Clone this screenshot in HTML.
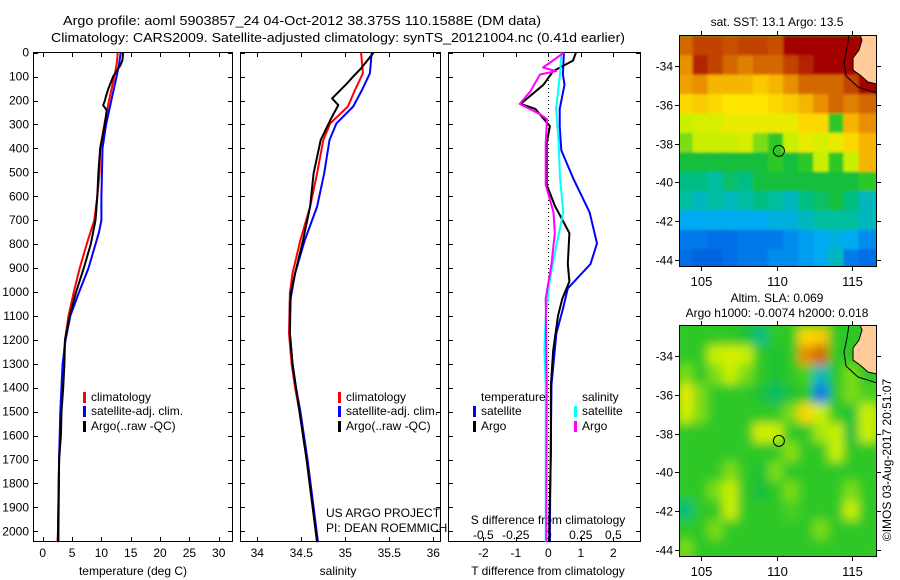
<!DOCTYPE html>
<html><head><meta charset="utf-8"><style>
body{margin:0;background:#fff;}
svg{display:block;font-family:"Liberation Sans",sans-serif;}
text{font-size:12px;fill:#000;}
</style></head><body>
<svg id="c" width="900" height="580" viewBox="0 0 900 580">
<defs>
<clipPath id="clipSST"><rect x="679" y="35" width="198" height="232"/></clipPath>
<clipPath id="clipSLA"><rect x="679" y="325" width="198" height="232"/></clipPath>
<filter id="blur" x="-5%" y="-5%" width="110%" height="110%"><feGaussianBlur stdDeviation="5"/></filter>
<filter id="blur2" x="-5%" y="-5%" width="110%" height="110%"><feGaussianBlur stdDeviation="1.2"/></filter>
</defs>
<text x="302" y="25" text-anchor="middle" style="font-size:13px" textLength="478" lengthAdjust="spacingAndGlyphs">Argo profile: aoml 5903857_24 04-Oct-2012 38.375S 110.1588E (DM data)</text>
<text x="338" y="42" text-anchor="middle" style="font-size:13px" textLength="574" lengthAdjust="spacingAndGlyphs">Climatology: CARS2009. Satellite-adjusted climatology: synTS_20121004.nc (0.41d earlier)</text>
<g id="plots"></g>
</svg>
<script>
// ---------- Profile data (depth in m) ----------
const tClimDepth=[0,50,100,200,300,400,500,600,700,800,900,1000,1100,1200,1300,1500,1700,2000,2045];
const tClimVal=[12.8,12.6,12.2,11.3,10.5,9.8,9.7,9.3,8.8,7.5,6.3,5.3,4.4,3.8,3.5,3.1,2.8,2.6,2.5];
const tSatDepth=[0,50,100,200,300,400,500,600,700,750,800,900,1000,1100,1200,1300,1500,1700,2000,2045];
const tSatVal=[13.3,13.0,12.6,11.7,10.8,10.2,10.1,10.0,10.0,9.6,9.0,7.8,6.2,4.7,3.9,3.4,3.0,2.8,2.7,2.7];
const tArgoDepth=[0,30,50,100,150,180,200,220,240,300,400,500,600,700,800,900,1000,1100,1200,1300,1400,1500,1600,1700,2000,2045];
const tArgoVal=[13.7,13.6,13.3,12.0,11.2,10.8,10.6,10.3,10.9,10.6,9.8,9.5,9.3,9.0,8.2,7.0,5.7,4.6,3.8,3.7,3.5,3.2,3.1,2.8,2.6,2.6];

const sClimDepth=[0,86,156,225,295,365,504,643,783,922,1006,1173,1300,1400,1500,1700,1900,2045];
const sClimVal=[35.18,35.2,35.11,35.03,34.83,34.75,34.68,34.6,34.49,34.4,34.37,34.36,34.39,34.43,34.48,34.56,34.63,34.68];
const sSatDepth=[0,86,156,225,295,365,504,643,783,922,1045,1173,1300,1400,1500,1700,1900,2045];
const sSatVal=[35.3,35.28,35.19,35.09,34.9,34.82,34.76,34.68,34.54,34.43,34.37,34.37,34.4,34.44,34.49,34.57,34.64,34.69];
const sArgoDepth=[0,65,100,128,191,219,274,365,504,643,783,922,1006,1173,1300,1500,1700,2045];
const sArgoVal=[35.32,35.18,35.09,35.02,34.85,34.92,34.84,34.72,34.64,34.6,34.52,34.43,34.38,34.37,34.4,34.48,34.56,34.68];

const dTSatDepth=[0,91,134,235,307,408,523,667,797,883,985,1071,1172,1388,1964,2045];
const dTSatVal=[0.48,0.45,0.5,0.35,0.35,0.4,0.76,1.27,1.5,1.3,0.6,0.45,0.25,0.1,0.05,0.05];
const dTArgoDepth=[0,33,77,134,214,235,307,379,552,639,754,883,956,1028,1100,1244,1388,1676,1964,2045];
const dTArgoVal=[0.85,0.76,0.15,-0.15,-0.85,-0.4,0.05,-0.05,-0.05,0.2,0.65,0.6,0.65,0.43,0.3,0.15,0.08,0.08,0.03,0.03];
const dSSatDepth=[0,91,235,379,523,667,811,956,1100,1244,1388,1964,2045];
const dSSatVal=[0.1,0.09,0.06,0.08,0.09,0.115,0.06,0.01,-0.02,-0.03,-0.02,-0.02,-0.02];
const dSArgoDepth=[0,62,77,91,163,214,257,278,379,552,667,754,883,1028,1244,1388,1964,2045];
const dSArgoVal=[0.12,-0.04,0.06,-0.064,-0.14,-0.22,-0.064,-0.01,-0.02,-0.02,0.04,0.05,0.025,-0.02,-0.015,-0.012,-0.015,-0.015];

const depthTicks=[0,100,200,300,400,500,600,700,800,900,1000,1100,1200,1300,1400,1500,1600,1700,1800,1900,2000];
const tempTicks=[0,5,10,15,20,25,30];
const salTicks=[34,34.5,35,35.5,36];
const salLabelTicks=[34,35,36];
const dTTicks=[-2,-1,0,1,2];
const dSTicks=[-0.5,-0.25,0,0.25,0.5];

// ---------- Map data: rows lat -33..-44, cols lon 104..116 (colour index 0..1, null = land) ----------
const mapLats=[-33,-34,-35,-36,-37,-38,-39,-40,-41,-42,-43,-44];
const mapLons=[104,105,106,107,108,109,110,111,112,113,114,115,116];
const sstGrid=[
[.85,.9,.9,.88,.9,.9,.88,1,1,1,1,1,null],
[.8,.95,.9,.85,.82,.85,.85,.9,.95,1,1,1,null],
[.78,.8,.75,.75,.75,.72,.75,.8,.85,.85,.85,.9,1],
[.7,.72,.7,.68,.68,.68,.7,.72,.75,.8,.85,.82,.85],
[.6,.62,.62,.65,.65,.65,.65,.65,.7,.7,.5,.75,.8],
[.55,.6,.6,.6,.62,.55,.5,.6,.65,.62,.65,.7,.75],
[.45,.45,.45,.45,.45,.45,.5,.45,.5,.6,.5,.6,.75],
[.4,.4,.38,.42,.4,.45,.45,.45,.45,.45,.45,.45,.5],
[.38,.35,.38,.35,.38,.4,.38,.35,.4,.42,.45,.4,.35],
[.3,.3,.3,.3,.3,.3,.32,.32,.35,.38,.38,.38,.35],
[.22,.22,.2,.2,.22,.22,.22,.25,.28,.3,.32,.3,.25],
[.2,.18,.18,.2,.22,.22,.25,.25,.28,.3,.35,.22,.2]];
const slaGrid=[
[.5,.5,.5,.5,.47,.4,.5,.5,.7,.72,.5,.5,null],
[.5,.5,.6,.62,.6,.5,.47,.5,.8,.85,.5,.5,null],
[.55,.5,.55,.6,.55,.5,.47,.5,.52,.35,.5,.55,.5],
[.65,.55,.5,.5,.5,.47,.42,.47,.5,.22,.5,.55,.52],
[.62,.55,.5,.5,.5,.5,.5,.55,.7,.6,.5,.47,.6],
[.5,.5,.5,.5,.5,.62,.6,.5,.5,.58,.6,.45,.6],
[.5,.5,.5,.5,.5,.5,.5,.56,.5,.5,.6,.5,.5],
[.5,.5,.5,.55,.5,.47,.55,.5,.5,.5,.5,.5,.5],
[.5,.5,.55,.6,.5,.45,.5,.55,.5,.5,.5,.55,.5],
[.4,.5,.5,.6,.5,.5,.5,.52,.5,.5,.5,.6,.5],
[.5,.5,.55,.5,.5,.5,.5,.5,.5,.55,.5,.5,.5],
[.55,.5,.5,.5,.5,.5,.5,.5,.5,.5,.5,.5,.5]];
const mapLatTicks=[-34,-36,-38,-40,-42,-44];
const mapLonTicks=[105,110,115];
const argoLon=[110.1588];
const argoLat=[-38.375];

// ---------- helpers ----------
const NS='http://www.w3.org/2000/svg';
const root=document.getElementById('plots');
function mk(tag,attrs,parent){const e=document.createElementNS(NS,tag);for(const k in attrs)e.setAttribute(k,attrs[k]);(parent||root).appendChild(e);return e;}
const yD=d=>52.7+d*0.2393;
const PT={x0:33,x1:232},PS={x0:240,x1:440},PD={x0:448,x1:640};
const PY0=52,PY1=541;
const xT=v=>42.7+v*5.867;
const xS=v=>257.3+(v-34)*88;
const xDT=v=>548.3+v*32.5;
const xDS=v=>548.3+v*130;

function panel(P,name){
  const g=mk('g',{});
  
  
  const r=mk('rect',{x:P.x0+0.5,y:PY0+0.5,width:P.x1-P.x0,height:PY1-PY0,fill:'#fff',stroke:'#000','stroke-width':1},g);
  
  
  depthTicks.forEach(d=>{
    const y=Math.round(yD(d))+0.5;
    mk('line',{x1:P.x0,x2:P.x0+5,y1:y,y2:y,stroke:'#000'},g);
    mk('line',{x1:P.x1-4,x2:P.x1,y1:y,y2:y,stroke:'#000'},g);
  });
  return g;
}
function xticks(g,ticks,f){
  ticks.forEach(v=>{const x=Math.round(f(v))+0.5;
    mk('line',{x1:x,x2:x,y1:PY0,y2:PY0+5,stroke:'#000'},g);
    mk('line',{x1:x,x2:x,y1:PY1-4,y2:PY1,stroke:'#000'},g);});
}
function line(g,depths,vals,f,color,name,w){
  const pts=depths.map((d,i)=>f(vals[i]).toFixed(1)+','+yD(d).toFixed(1)).join(' ');
  const p=mk('polyline',{points:pts,fill:'none',stroke:color,'stroke-width':w||2,'stroke-linejoin':'round'},g);
  
  
}
function label(g,x,y,t,anchor,name,size){
  const e=mk('text',{x:x,y:y,'text-anchor':anchor||'start'},g);
  if(size)e.style.fontSize=size+'px';
  e.textContent=t;
  
  
  return e;
}
function legendSwatch(g,x,y,color,name){
  const r=mk('rect',{x:x,y:y-9,width:3,height:11,fill:color},g);
  
  
}

// ---------- Panel 1: temperature ----------
const g1=panel(PT,'temperature-panel');
xticks(g1,tempTicks,xT);
depthTicks.forEach(d=>label(g1,29,yD(d)+4,String(d),'end','depth-tick-label'));
tempTicks.forEach(v=>label(g1,xT(v),557,String(v),'middle','temperature-tick-label'));
label(g1,133,575,'temperature (deg C)','middle','temperature-axis-title');
line(g1,tClimDepth,tClimVal,xT,'#f00','temperature-climatology-line');
line(g1,tSatDepth,tSatVal,xT,'#00f','temperature-satellite-line');
line(g1,tArgoDepth,tArgoVal,xT,'#000','temperature-argo-line');
legendSwatch(g1,83,401,'#f00','legend-climatology-swatch');label(g1,91,401,'climatology','start','legend-climatology');
legendSwatch(g1,83,415,'#00f','legend-satellite-swatch');label(g1,91,415,'satellite-adj. clim.','start','legend-satellite');
legendSwatch(g1,83,430,'#000','legend-argo-swatch');label(g1,91,430,'Argo(..raw -QC)','start','legend-argo');

// ---------- Panel 2: salinity ----------
const g2=panel(PS,'salinity-panel');
xticks(g2,salTicks,xS);
salLabelTicks.forEach(v=>label(g2,xS(v),557,String(v),'middle','salinity-tick-label'));
label(g2,xS(35.5),557,'35.5','middle','salinity-tick-label');
label(g2,xS(34.5),557,'34.5','middle','salinity-tick-label');
label(g2,338,575,'salinity','middle','salinity-axis-title');
line(g2,sClimDepth,sClimVal,xS,'#f00','salinity-climatology-line');
line(g2,sSatDepth,sSatVal,xS,'#00f','salinity-satellite-line');
line(g2,sArgoDepth,sArgoVal,xS,'#000','salinity-argo-line');
legendSwatch(g2,338,401,'#f00','legend-climatology-swatch');label(g2,346,401,'climatology','start','legend-climatology');
legendSwatch(g2,338,415,'#00f','legend-satellite-swatch');label(g2,346,415,'satellite-adj. clim.','start','legend-satellite');
legendSwatch(g2,338,430,'#000','legend-argo-swatch');label(g2,346,430,'Argo(..raw -QC)','start','legend-argo');
label(g2,326,517,'US ARGO PROJECT','start','project-credit');
label(g2,326,532,'PI: DEAN ROEMMICH','start','pi-credit');

// ---------- Panel 3: differences ----------
const g3=panel(PD,'difference-panel');
xticks(g3,dTTicks,xDT);
const zl=mk('line',{x1:548.5,x2:548.5,y1:PY0,y2:PY1,stroke:'#000','stroke-dasharray':'1,3'},g3);


dTTicks.forEach(v=>label(g3,xDT(v),557,String(v),'middle','t-diff-tick-label'));
dSTicks.forEach(v=>label(g3,xDS(v),539,String(v),'middle','s-diff-tick-label'));
label(g3,548,524,'S difference from climatology','middle','s-diff-axis-title');
label(g3,548,575,'T difference from climatology','middle','t-diff-axis-title');
line(g3,dTSatDepth,dTSatVal,xDT,'#00f','t-diff-satellite-line');
line(g3,dTArgoDepth,dTArgoVal,xDT,'#000','t-diff-argo-line');
line(g3,dSSatDepth,dSSatVal,xDS,'#0ff','s-diff-satellite-line');
line(g3,dSArgoDepth,dSArgoVal,xDS,'#f0f','s-diff-argo-line');
label(g3,481,401,'temperature','start','legend-temperature-heading');
label(g3,582,401,'salinity','start','legend-salinity-heading');
legendSwatch(g3,473,415,'#00f','legend-t-satellite-swatch');label(g3,481,415,'satellite','start','legend-t-satellite');
legendSwatch(g3,473,430,'#000','legend-t-argo-swatch');label(g3,481,430,'Argo','start','legend-t-argo');
legendSwatch(g3,574,415,'#0ff','legend-s-satellite-swatch');label(g3,582,415,'satellite','start','legend-s-satellite');
legendSwatch(g3,574,430,'#f0f','legend-s-argo-swatch');label(g3,582,430,'Argo','start','legend-s-argo');

// ---------- Maps ----------
const stops=[[0,[0,0,160]],[.2,[0,110,230]],[.3,[0,170,240]],[.38,[0,190,160]],[.45,[20,190,60]],[.5,[45,200,40]],[.6,[200,240,0]],[.68,[255,230,0]],[.78,[240,160,0]],[.88,[200,80,0]],[1,[165,0,0]]];
function cmap(v){for(let i=1;i<stops.length;i++){if(v<=stops[i][0]){const a=stops[i-1],b=stops[i],t=(v-a[0])/(b[0]-a[0]);return 'rgb('+a[1].map((c,k)=>Math.round(c+(b[1][k]-c)*t)).join(',')+')';}}return 'rgb(165,0,0)';}
const xLon=lon=>701+(lon-105)*15.1;
function drawMap(grid,oy,name,clipId,filt,lows,titleLines){
  const g=mk('g',{});
  
  
  const yLat=lat=>oy+66+(-34-lat)*19.4;
  mk('rect',{x:679,y:oy+35,width:198,height:232,fill:cmap(lows)},g);
  const cg=mk('g',{'clip-path':'url(#'+clipId+')'},g);
  const fg=mk('g',{filter:'url(#'+filt+')'},cg);
  const w=15.1,h=19.4;
  mapLats.forEach((lat,r)=>mapLons.forEach((lon,c)=>{
    let v=grid[r][c]; if(v===null) v=grid[r][c-1];
    const cell=mk('rect',{x:(xLon(lon)-w/2-1).toFixed(1),y:(yLat(lat)-h/2-1).toFixed(1),width:w+(c===mapLons.length-1?6:2),height:h+2,fill:cmap(v)},fg);
    
    
  }));
  const land=mk('polygon',{points:[[860,35],[862,40],[859,50],[853,58],[853,70],[860,75],[868,82],[877,84],[877,35]].map(p=>p[0]+','+(p[1]+oy)).join(' '),fill:'#fc9',stroke:'#000','stroke-width':1},cg);
  
  
  const ct=mk('polyline',{points:[[849,35],[847,48],[844,62],[846,76],[858,87],[877,93]].map(p=>p[0]+','+(p[1]+oy)).join(' '),fill:'none',stroke:'#000','stroke-width':1},cg);
  
  
  mk('rect',{x:679.5,y:oy+35.5,width:197,height:231,fill:'none',stroke:'#000'},g);
  mapLatTicks.forEach(lat=>{const y=Math.round(yLat(lat))+0.5;
    mk('line',{x1:675,x2:679,y1:y,y2:y,stroke:'#000'},g);
    mk('line',{x1:877,x2:881,y1:y,y2:y,stroke:'#000'},g);
    label(g,673,y+4,String(lat),'end','map-lat-tick-label');});
  mapLonTicks.forEach(lon=>{const x=Math.round(xLon(lon))+0.5;
    mk('line',{x1:x,x2:x,y1:oy+31,y2:oy+35,stroke:'#000'},g);
    mk('line',{x1:x,x2:x,y1:oy+267,y2:oy+271,stroke:'#000'},g);
    label(g,x,oy+286,String(lon),'middle','map-lon-tick-label',13);});
  argoLon.forEach((lon,i)=>{
    const m=mk('circle',{cx:xLon(lon).toFixed(1),cy:yLat(argoLat[i]).toFixed(1),r:5.5,fill:'none',stroke:'#000','stroke-width':1},g);
    
    
  });
  titleLines.forEach((t,i)=>label(g,t[1],t[2],t[0],'middle','map-title'));
}
drawMap(sstGrid,0,'sst-map','clipSST','blur2',0.5,[['sat. SST: 13.1 Argo: 13.5',777,26]]);
drawMap(slaGrid,290,'sla-map','clipSLA','blur',0.5,[['Altim. SLA: 0.069',777,302],['Argo h1000: -0.0074 h2000: 0.018',777,317]]);
const cr=label(root,0,0,'\u00a9IMOS 03-Aug-2017 20:51:07','middle','timestamp-credit');
cr.setAttribute('transform','translate(891,460) rotate(-90)');
</script>
</body></html>
